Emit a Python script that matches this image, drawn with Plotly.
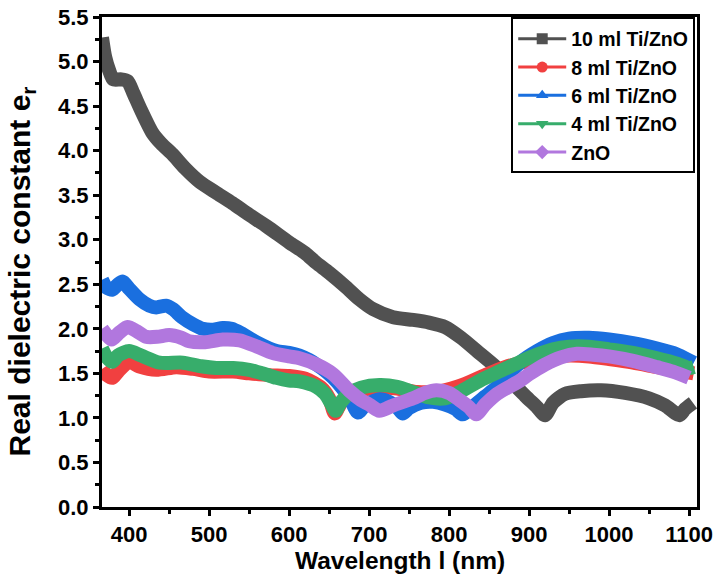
import plotly.graph_objects as go

# ---- data ----
x_10 = [366, 370, 375, 380, 390, 398, 405, 415, 429, 440, 454, 470, 488, 510, 529, 550, 572, 600, 620, 634,
        650, 671, 688, 705, 730, 755, 775, 795, 815, 835, 855, 875, 895, 910, 920, 930, 945, 965, 990, 1020,
        1050, 1070, 1088, 1095, 1105]
y_10 = [5.27, 5.05, 4.90, 4.80, 4.80, 4.78, 4.65, 4.45, 4.20, 4.08, 3.96, 3.80, 3.65, 3.52, 3.41, 3.28, 3.15, 2.97, 2.85, 2.74,
        2.63, 2.47, 2.33, 2.22, 2.13, 2.10, 2.07, 2.02, 1.90, 1.75, 1.60, 1.43, 1.25, 1.12, 1.03, 1.17, 1.27, 1.30, 1.31, 1.28,
        1.22, 1.14, 1.03, 1.10, 1.17]

x_8 = [366, 372, 379, 387, 400, 412, 434, 459, 480, 500, 530, 550, 575, 600, 620, 640, 650, 657, 665, 676,
       690, 713, 735, 760, 790, 817, 845, 870, 900, 925, 950, 975, 1000, 1030, 1060, 1085, 1100, 1106]
y_8 = [1.55, 1.48, 1.45, 1.53, 1.63, 1.58, 1.54, 1.57, 1.55, 1.52, 1.52, 1.50, 1.48, 1.47, 1.44, 1.34, 1.22, 1.05, 1.17, 1.26,
       1.31, 1.34, 1.33, 1.29, 1.30, 1.37, 1.48, 1.57, 1.64, 1.68, 1.70, 1.69, 1.66, 1.62, 1.57, 1.53, 1.51, 1.50]

x_6 = [366, 372, 379, 386, 392, 400, 413, 425, 434, 446, 455, 466, 480, 492, 505, 517, 528, 540, 559, 584,
       600, 613, 625, 634, 645, 655, 665, 676, 686, 695, 713, 725, 735, 742, 750, 765, 780, 795, 808, 817,
       830, 845, 860, 875, 890, 910, 930, 950, 975, 1000, 1030, 1060, 1080, 1095, 1106]
y_6 = [2.55, 2.46, 2.44, 2.50, 2.53, 2.45, 2.33, 2.26, 2.24, 2.26, 2.22, 2.13, 2.05, 2.00, 1.99, 2.01, 2.00, 1.95, 1.85, 1.75,
       1.73, 1.70, 1.65, 1.60, 1.53, 1.45, 1.35, 1.22, 1.06, 1.14, 1.21, 1.18, 1.12, 1.05, 1.11, 1.17, 1.18, 1.15, 1.10, 1.04,
       1.13, 1.24, 1.35, 1.50, 1.63, 1.75, 1.84, 1.89, 1.90, 1.88, 1.84, 1.78, 1.73, 1.67, 1.62]

x_4 = [366, 372, 379, 386, 400, 415, 438, 467, 490, 509, 530, 550, 570, 584, 600, 613, 634, 645, 652, 658,
       665, 676, 690, 713, 735, 755, 775, 795, 815, 839, 865, 889, 910, 930, 950, 975, 1000, 1030, 1060, 1085,
       1100, 1106]
y_4 = [1.78, 1.68, 1.63, 1.70, 1.75, 1.70, 1.62, 1.62, 1.58, 1.56, 1.56, 1.54, 1.49, 1.45, 1.42, 1.41, 1.35, 1.27, 1.17, 1.08,
       1.18, 1.28, 1.34, 1.37, 1.35, 1.29, 1.23, 1.22, 1.30, 1.42, 1.53, 1.63, 1.71, 1.77, 1.80, 1.80, 1.77, 1.73, 1.67, 1.61,
       1.56, 1.57]

x_zno = [366, 372, 378, 388, 398, 410, 421, 435, 450, 465, 475, 495, 517, 538, 560, 579, 600, 613, 634, 655,
         676, 690, 700, 713, 730, 755, 770, 784, 800, 813, 825, 834, 845, 860, 889, 900, 920, 940, 960, 980,
         1000, 1030, 1060, 1080, 1100]
y_zno = [2.00, 1.93, 1.88, 1.96, 2.02, 1.97, 1.91, 1.91, 1.93, 1.90, 1.86, 1.85, 1.88, 1.87, 1.80, 1.73, 1.69, 1.67, 1.60, 1.49,
         1.30, 1.20, 1.15, 1.08, 1.14, 1.22, 1.28, 1.31, 1.28, 1.20, 1.12, 1.04, 1.15, 1.27, 1.42, 1.49, 1.60, 1.68, 1.72, 1.71,
         1.69, 1.64, 1.57, 1.52, 1.45]

names = ["10 ml Ti/ZnO", "8 ml Ti/ZnO", "6 ml Ti/ZnO", "4 ml Ti/ZnO", "ZnO"]
colors = ["#515151", "#F14040", "#1A6FDF", "#37AD6B", "#B177DE"]
symbols = ["square", "circle", "triangle-up", "triangle-down", "diamond"]
series = [(x_10, y_10), (x_8, y_8), (x_6, y_6), (x_4, y_4), (x_zno, y_zno)]

x_ticks = [400, 500, 600, 700, 800, 900, 1000, 1100]
y_ticks = [0.0, 0.5, 1.0, 1.5, 2.0, 2.5, 3.0, 3.5, 4.0, 4.5, 5.0, 5.5]
x_title = "Wavelength l (nm)"
y_title = "Real dielectric constant e<sub>r</sub>"

FONT = "Arial, 'Liberation Sans', sans-serif"

fig = go.Figure()
for (xs, ys), n, c in zip(series, names, colors):
    fig.add_trace(go.Scatter(x=xs, y=ys, mode="lines", name=n, showlegend=False,
                             line=dict(color=c, width=14, shape="spline", smoothing=0.7)))
# legend samples
for n, c, s in zip(names, colors, symbols):
    fig.add_trace(go.Scatter(x=[None], y=[None], mode="lines+markers", name=n,
                             line=dict(color=c, width=3),
                             marker=dict(symbol=s, size=11, color=c)))

axis_common = dict(
    showline=True, linecolor="black", linewidth=3, mirror=True,
    ticks="outside", ticklen=6, tickwidth=3, tickcolor="black",
    showgrid=False, zeroline=False, automargin=False,
    tickfont=dict(family=FONT, size=22, color="black", weight="bold"),
)

fig.update_layout(
    width=718, height=575, autosize=False,
    margin=dict(l=102, r=21, t=17, b=68, autoexpand=False),
    paper_bgcolor="white", plot_bgcolor="white",
    xaxis=dict(range=[366, 1110], tickvals=x_ticks,
               minor=dict(dtick=50, tick0=400, ticks="outside", ticklen=4, tickwidth=3, tickcolor="black"),
               **axis_common),
    yaxis=dict(range=[0, 5.5], tickvals=y_ticks, tickformat=".1f",
               minor=dict(dtick=0.25, tick0=0, ticks="outside", ticklen=4, tickwidth=3, tickcolor="black"),
               **axis_common),
    legend=dict(x=0.997, y=0.999, xanchor="right", yanchor="top",
                bgcolor="white", bordercolor="black", borderwidth=2,
                font=dict(family=FONT, size=19.5, color="black", weight="bold"),
                itemwidth=48, tracegroupgap=0),
    showlegend=True,
    annotations=[
        dict(text=x_title, xref="paper", yref="paper", x=0.5, y=-0.109,
             xanchor="center", yanchor="middle", showarrow=False,
             font=dict(family=FONT, size=24.5, color="black", weight="bold")),
        dict(text=y_title, xref="paper", yref="paper", x=-0.135, y=0.48,
             xanchor="center", yanchor="middle", showarrow=False, textangle=-90,
             font=dict(family=FONT, size=30, color="black", weight="bold")),
    ],
)

fig.write_html("out.html", config={"displayModeBar": False},
               post_script="document.body.style.margin='0';")
